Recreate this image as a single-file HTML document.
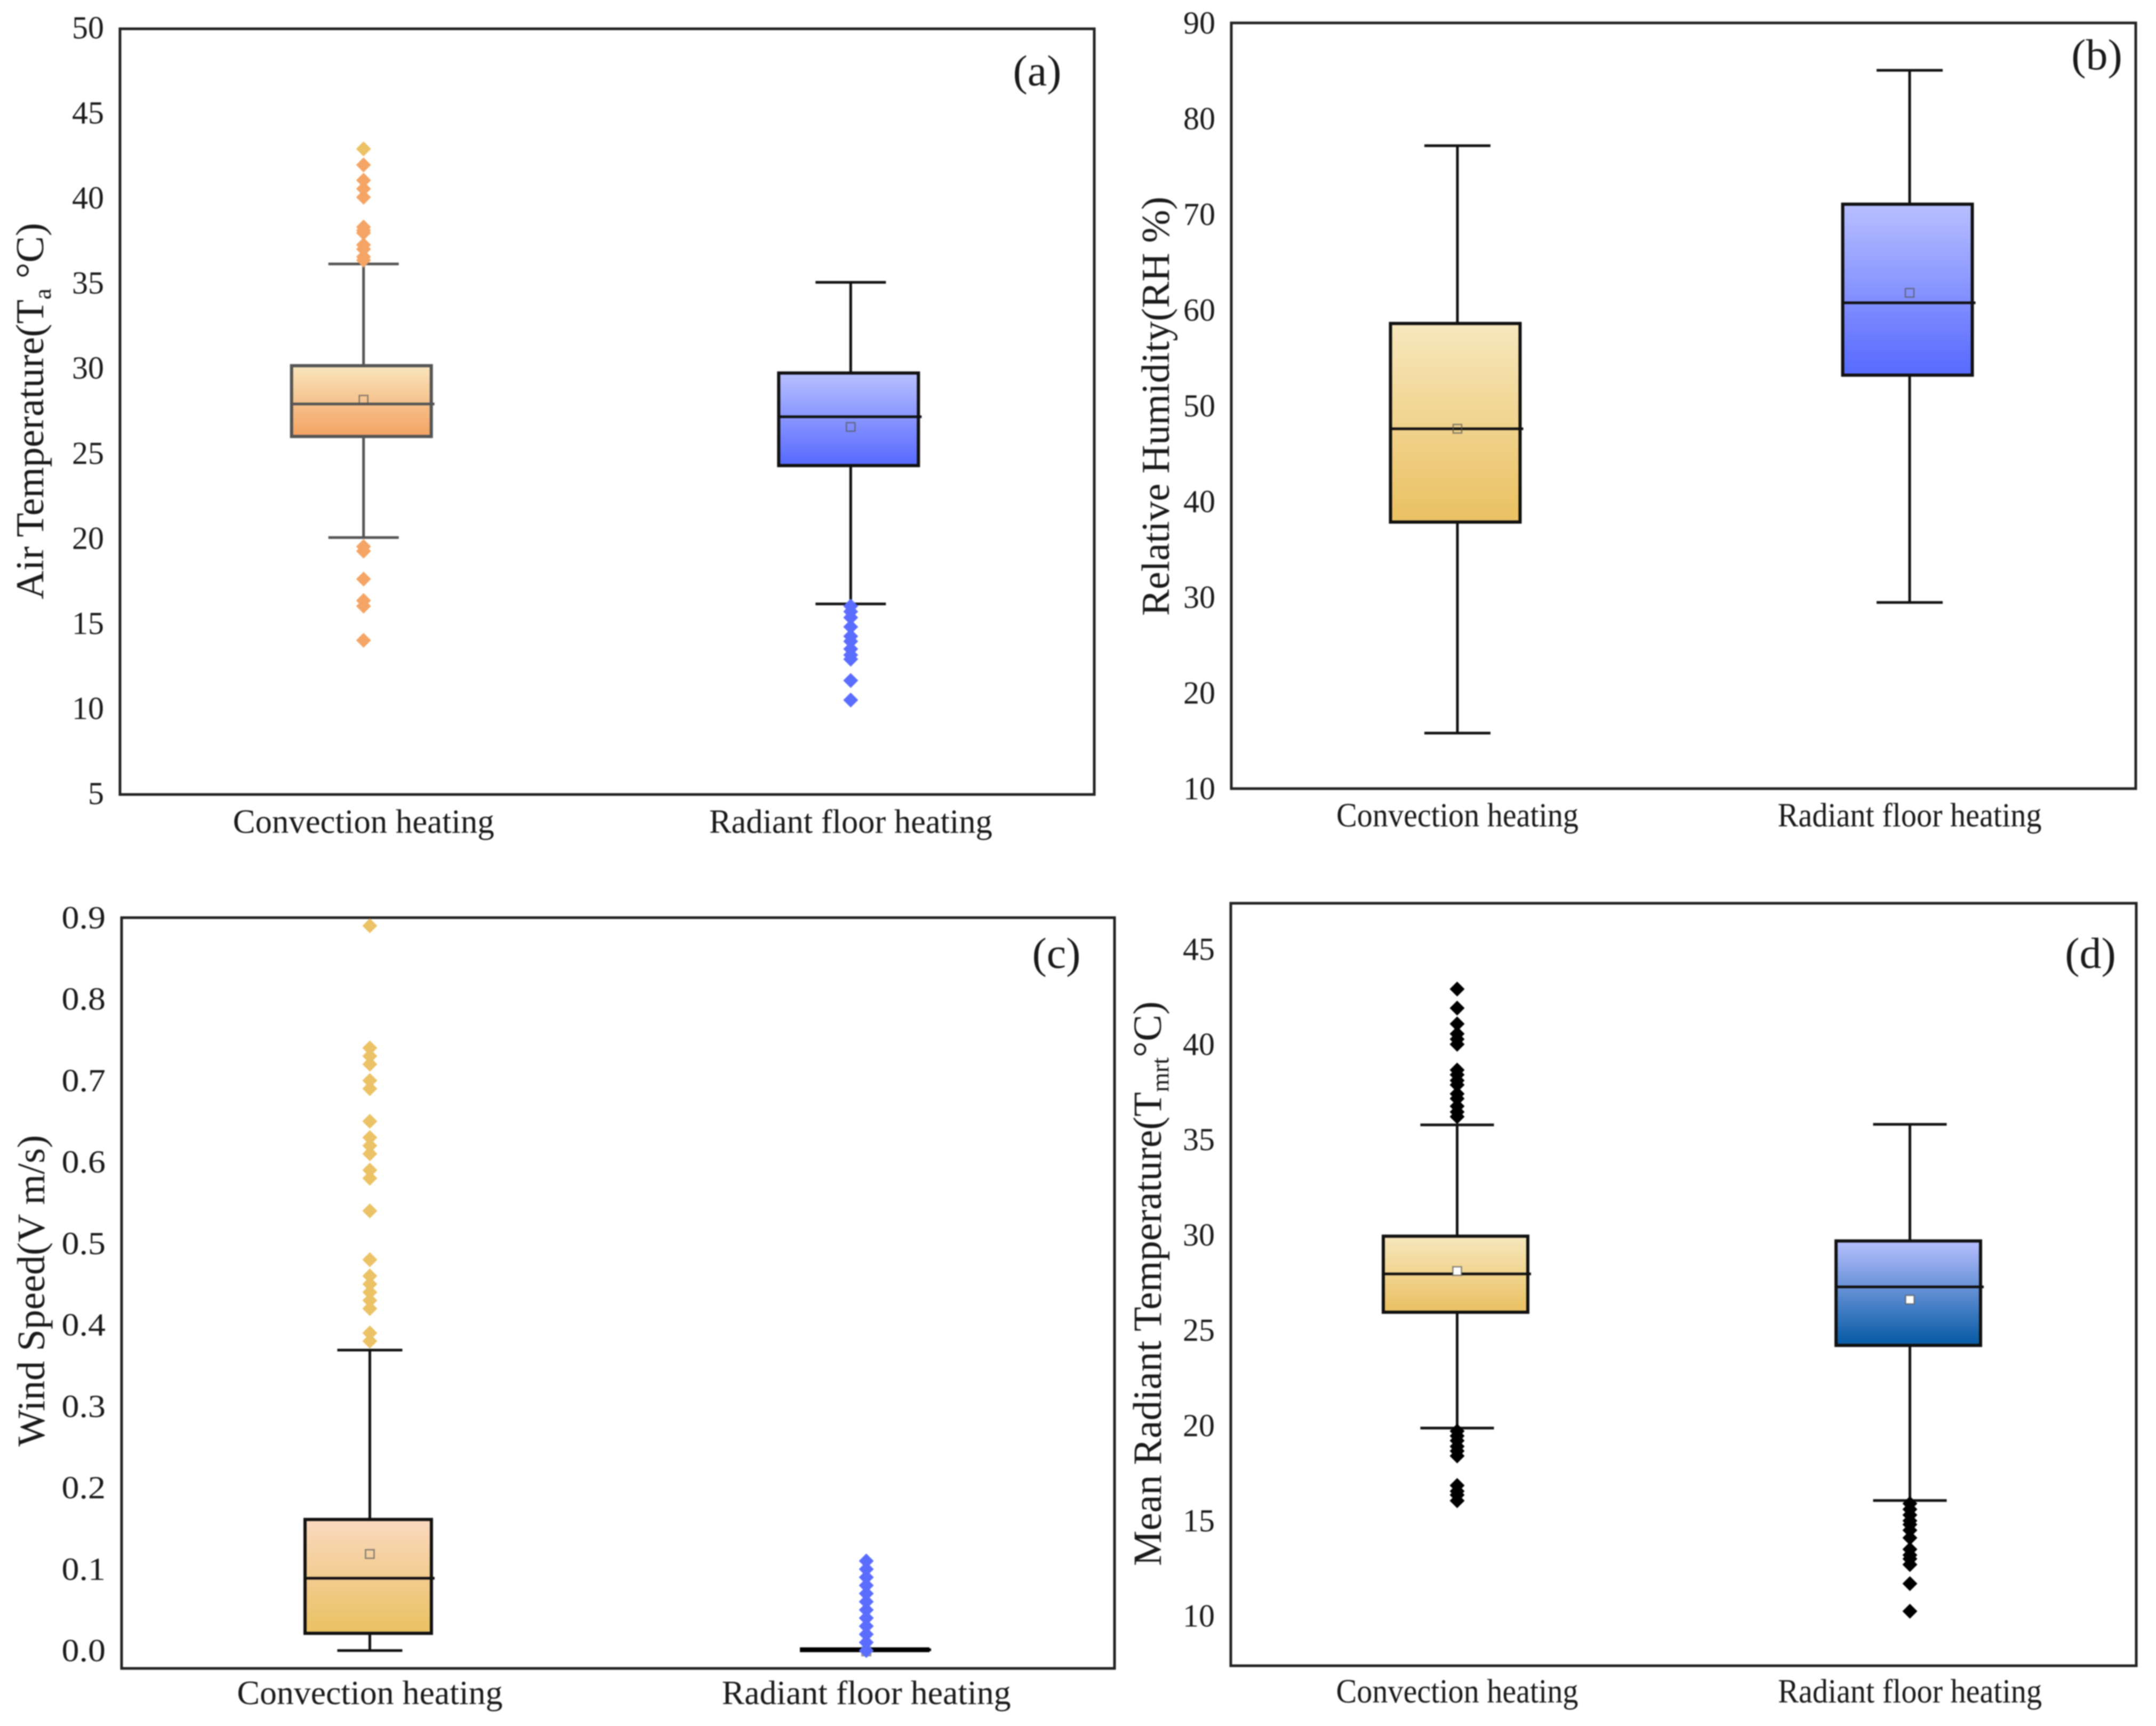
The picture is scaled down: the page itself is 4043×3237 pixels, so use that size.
<!DOCTYPE html>
<html lang="en">
<head>
<meta charset="utf-8">
<title>Indoor environment box plots</title>
<style>
html,body{margin:0;padding:0;background:#fff;}
svg{display:block;filter:blur(1px);}
text{font-family:"Liberation Serif",serif;fill:#1a1a1a;}
</style>
</head>
<body>
<svg id="figure" xmlns="http://www.w3.org/2000/svg" width="4043" height="3237" viewBox="0 0 4043 3237">
<defs>
<linearGradient id="grad-orange" x1="0" y1="0" x2="0" y2="1"><stop offset="0" stop-color="#f9e6bd"/><stop offset="0.95" stop-color="#f4a566"/></linearGradient>
<linearGradient id="grad-gold" x1="0" y1="0" x2="0" y2="1"><stop offset="0" stop-color="#f7e8bd"/><stop offset="0.95" stop-color="#ebc265"/></linearGradient>
<linearGradient id="grad-peach" x1="0" y1="0" x2="0" y2="1"><stop offset="0" stop-color="#fbd9c0"/><stop offset="0.95" stop-color="#ebc265"/></linearGradient>
<linearGradient id="grad-blue" x1="0" y1="0" x2="0" y2="1"><stop offset="0" stop-color="#b8c0ff"/><stop offset="0.95" stop-color="#5b6dff"/></linearGradient>
<linearGradient id="grad-navy" x1="0" y1="0" x2="0" y2="1"><stop offset="0" stop-color="#b8c0ff"/><stop offset="0.95" stop-color="#0c5ea8"/></linearGradient>
</defs>

<text transform="translate(81,1124) rotate(-90)" font-size="74.5">Air Temperature(T<tspan font-size="47" dy="14">a</tspan><tspan dy="-14"> °C)</tspan></text>
<text transform="translate(2192,1155) rotate(-90)" font-size="74.5">Relative Humidity(RH %)</text>
<text transform="translate(83,2713) rotate(-90)" font-size="73.6">Wind Speed(V m/s)</text>
<text transform="translate(2177,2937) rotate(-90)" font-size="75">Mean Radiant Temperature(T<tspan font-size="47" dy="14">mrt</tspan><tspan dy="-14">°C)</tspan></text>

<text x="1945" y="160" font-size="82" text-anchor="middle">(a)</text>
<text x="3932" y="130" font-size="82" text-anchor="middle">(b)</text>
<text x="1981" y="1815" font-size="82" text-anchor="middle">(c)</text>
<text x="3920" y="1815" font-size="82" text-anchor="middle">(d)</text>
</svg>

<script>
const categories = ["Convection heating", "Radiant floor heating"];

const aTicks = ["5", "10", "15", "20", "25", "30", "35", "40", "45", "50"];
const aWhiskerLow = [20.1, 16.2];
const aQ1 = [26.04, 24.33];
const aMedian = [27.95, 27.2];
const aQ3 = [30.2, 29.77];
const aWhiskerHigh = [36.18, 35.1];
const aMean = [28.2, 26.6];
const aConvOutliers = [42, 41.1, 40.6, 40.1, 38.35, 38.15, 38, 37.3, 37.05, 36.6, 36.4, 19.57, 19.3, 17.66, 16.4, 16.07, 14.06];
const aConvTopOutlier = [42.94];
const aRadOutliers = [16.07, 15.75, 15.4, 14.85, 14.3, 14, 13.55, 13.2, 12.95, 11.7, 10.55];

const bTicks = ["10", "20", "30", "40", "50", "60", "70", "80", "90"];
const bWhiskerLow = [15.8, 29.45];
const bQ1 = [37.85, 53.2];
const bMedian = [47.6, 60.76];
const bQ3 = [58.6, 71.06];
const bWhiskerHigh = [77.17, 85.05];
const bMean = [47.6, 61.8];

const cTicks = ["0.0", "0.1", "0.2", "0.3", "0.4", "0.5", "0.6", "0.7", "0.8", "0.9"];
const cWhiskerLow = [0, 0];
const cQ1 = [0.0212, 0];
const cMedian = [0.0888, 0.001];
const cQ3 = [0.161, 0.002];
const cWhiskerHigh = [0.369, 0.002];
const cMean = [0.1186, -0.001];
const cConvOutliers = [0.89, 0.74, 0.73, 0.72, 0.7, 0.69, 0.65, 0.63, 0.62, 0.61, 0.59, 0.58, 0.54, 0.48, 0.46, 0.45, 0.44, 0.43, 0.42, 0.39, 0.38];
const cRadOutliers = [0.11, 0.1, 0.09, 0.08, 0.07, 0.06, 0.05, 0.04, 0.03, 0.02, 0.01, 0];

const dTicks = ["10", "15", "20", "25", "30", "35", "40", "45"];
const dWhiskerLow = [19.86, 16.06];
const dQ1 = [25.94, 24.2];
const dMedian = [27.95, 27.27];
const dQ3 = [29.93, 29.68];
const dWhiskerHigh = [35.77, 35.8];
const dMean = [28.1, 26.6];
const dConvOutliers = [42.9, 41.9, 41.07, 40.55, 40.27, 40, 38.65, 38.4, 38.1, 37.87, 37.4, 37.15, 36.75, 36.45, 36.2, 19.7, 19.45, 19.2, 18.9, 18.66, 18.4, 16.85, 16.55, 16.35, 16.05];
const dRadOutliers = [15.9, 15.6, 15.3, 15, 14.8, 14.5, 14.1, 13.5, 13.2, 13, 12.7, 11.7, 10.25];

const svg = document.getElementById('figure');
const NS = 'http://www.w3.org/2000/svg';

function mk(tag, attrs, text) {
  const el = document.createElementNS(NS, tag);
  for (const k in attrs) el.setAttribute(k, attrs[k]);
  if (text !== undefined) el.textContent = text;
  svg.appendChild(el);
  return el;
}

function drawOutliers(values, x, yOf, color, id) {
  values.forEach(function (v) {
    const y = yOf(v);
    const r = 14;
    const d = mk('polygon', {
      points: (x) + ',' + (y - r) + ' ' + (x + r) + ',' + y + ' ' + x + ',' + (y + r) + ' ' + (x - r) + ',' + y,
      fill: color
    });
    
    
  });
}

function drawPanel(p) {
  const yOf = function (v) { return p.bottom - (v - p.yMin) / (p.yMax - p.yMin) * (p.bottom - p.top); };
  const xOf = function (i) { return p.left + (p.right - p.left) * (i + 0.5) / categories.length; };

  const frame = mk('rect', { x: p.left, y: p.top, width: p.right - p.left, height: p.bottom - p.top, fill: 'none', stroke: '#222', 'stroke-width': 5 });
  
  

  p.ticks.forEach(function (t) {
    const tick = mk('text', { x: p.left - 30, y: yOf(parseFloat(t)) + p.tickDy, 'font-size': 60, 'text-anchor': 'end' }, t);
    
    
    const natural = tick.getComputedTextLength();
    tick.setAttribute('textLength', natural * p.tickStretch);
    tick.setAttribute('lengthAdjust', 'spacingAndGlyphs');
  });

  categories.forEach(function (name, i) {
    const x = xOf(i);
    const label = mk('text', { x: x, y: p.labelY, 'font-size': 64, 'text-anchor': 'middle', textLength: p.labelLengths[i], lengthAdjust: 'spacingAndGlyphs' }, name);
    
    

    const sw = p.strokes[i];
    const yLo = yOf(p.low[i]), yHi = yOf(p.high[i]);
    const yQ1 = yOf(p.q1[i]), yQ3 = yOf(p.q3[i]);

    const stem = mk('line', { x1: x, x2: x, y1: yHi, y2: yLo, stroke: sw, 'stroke-width': 5 });
    
    

    const capHi = mk('line', { x1: x - p.capW / 2, x2: x + p.capW / 2, y1: yHi, y2: yHi, stroke: sw, 'stroke-width': 5 });
    
    

    const capLo = mk('line', { x1: x - p.capW / 2, x2: x + p.capW / 2, y1: yLo, y2: yLo, stroke: sw, 'stroke-width': 5 });
    
    

    const bx = x + p.boxDx;
    const box = mk('rect', { x: bx - p.boxW / 2, y: yQ3, width: p.boxW, height: Math.max(yQ1 - yQ3, 1), fill: 'url(#' + p.grads[i] + ')', stroke: sw, 'stroke-width': 6 });
    
    

    const yM = yOf(p.median[i]);
    const med = mk('line', { x1: bx - p.boxW / 2, x2: bx + p.boxW / 2 + 6, y1: yM, y2: yM, stroke: sw, 'stroke-width': 5 });
    
    

    const yA = yOf(p.mean[i]);
    const mean = mk('rect', { x: x - 8, y: yA - 8, width: 16, height: 16, fill: p.meanFill, stroke: '#555', 'stroke-opacity': 0.7, 'stroke-width': 2.5 });
    
    
  });

  p.outliers.forEach(function (o) { drawOutliers(o.values, xOf(o.cat), yOf, o.color, p.id); });
}

drawPanel({
  id: 'panel-a', left: 225, right: 2052, top: 54, bottom: 1490, yMin: 5, yMax: 50, labelY: 1562,
  tickDy: 18, tickStretch: 1, labelLengths: [490, 531], boxDx: -4,
  boxW: 262, capW: 132, ticks: aTicks, low: aWhiskerLow, q1: aQ1, median: aMedian, q3: aQ3, high: aWhiskerHigh, mean: aMean,
  grads: ['grad-orange', 'grad-blue'], strokes: ['#555', '#111'], meanFill: 'none',
  outliers: [
    { cat: 0, values: aConvOutliers, color: '#f4a566' },
    { cat: 0, values: aConvTopOutlier, color: '#ebc265' },
    { cat: 1, values: aRadOutliers, color: '#5b6dff' }
  ]
});

drawPanel({
  id: 'panel-b', left: 2309, right: 4005, top: 43, bottom: 1479, yMin: 10, yMax: 90, labelY: 1550,
  tickDy: 20, tickStretch: 1, labelLengths: [454, 495], boxDx: -4,
  boxW: 243, capW: 124, ticks: bTicks, low: bWhiskerLow, q1: bQ1, median: bMedian, q3: bQ3, high: bWhiskerHigh, mean: bMean,
  grads: ['grad-gold', 'grad-blue'], strokes: ['#111', '#111'], meanFill: 'none', outliers: []
});

drawPanel({
  id: 'panel-c', left: 228, right: 2090, top: 1721, bottom: 3129, yMin: -0.0219, yMax: 0.9, labelY: 3196,
  tickDy: 20, tickStretch: 1.1, labelLengths: [498, 542], boxDx: -3,
  boxW: 237, capW: 122, ticks: cTicks, low: cWhiskerLow, q1: cQ1, median: cMedian, q3: cQ3, high: cWhiskerHigh, mean: cMean,
  grads: ['grad-peach', 'grad-blue'], strokes: ['#111', '#000'], meanFill: 'none',
  outliers: [
    { cat: 0, values: cConvOutliers, color: '#ebc265' },
    { cat: 1, values: cRadOutliers, color: '#5b6dff' }
  ]
});

drawPanel({
  id: 'panel-d', left: 2308, right: 4006, top: 1694, bottom: 3124, yMin: 7.39, yMax: 47.4, labelY: 3193,
  tickDy: 20, tickStretch: 1, labelLengths: [454, 495], boxDx: -3,
  boxW: 271, capW: 138, ticks: dTicks, low: dWhiskerLow, q1: dQ1, median: dMedian, q3: dQ3, high: dWhiskerHigh, mean: dMean,
  grads: ['grad-gold', 'grad-navy'], strokes: ['#111', '#111'], meanFill: '#fff',
  outliers: [
    { cat: 0, values: dConvOutliers, color: '#000' },
    { cat: 1, values: dRadOutliers, color: '#000' }
  ]
});
</script>
</body>
</html>
